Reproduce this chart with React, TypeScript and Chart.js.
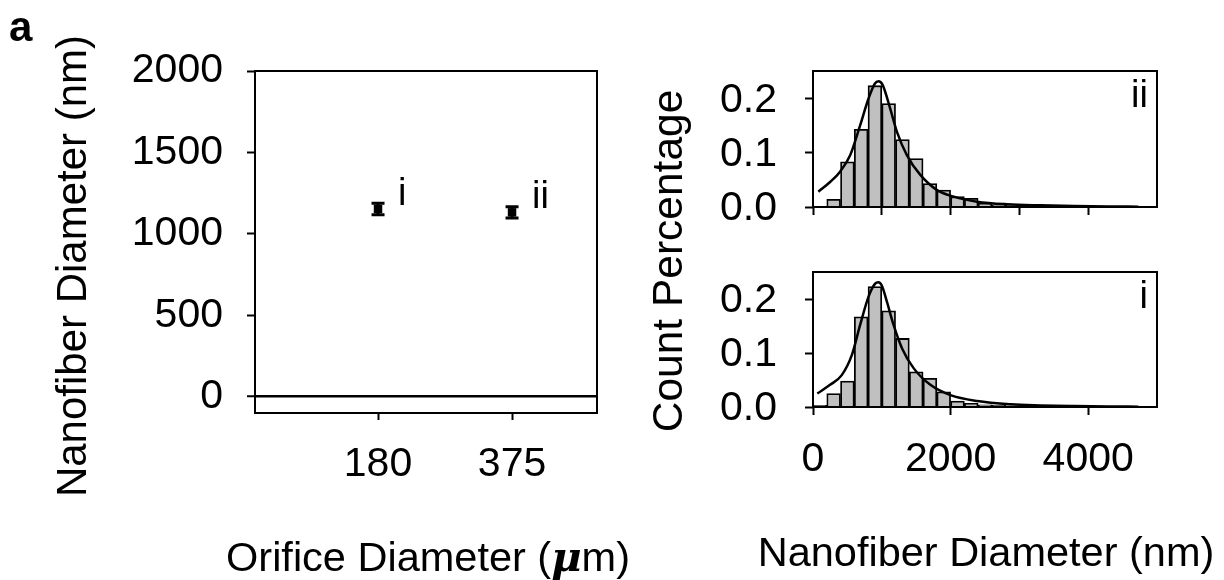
import React, { useEffect, useRef } from 'react';
import { Chart, registerables } from 'chart.js';

Chart.register(...registerables);

const FONT = '"Liberation Sans", Arial, Helvetica, sans-serif';

// ---------- Left panel data ----------
const orificeLabels = ['180', '375'];
const orificePositions = [1, 2];
const meanDiameter = [1153, 1132];
const diameterError = [35, 35];
const pointTags = ['i', 'ii'];
const leftYTicks = [0, 500, 1000, 1500, 2000];

// ---------- Histogram data ----------
const binCenters = [100, 300, 500, 700, 900, 1100, 1300, 1500, 1700, 1900, 2100, 2300, 2500, 2700, 2900, 3100, 3300, 3500, 3700, 3900, 4100, 4300, 4500, 4700];
const countsII = [0, 0.014, 0.083, 0.143, 0.223, 0.19, 0.124, 0.089, 0.043, 0.031, 0.019, 0.016, 0.007, 0.004, 0.004, 0.003, 0.002, 0.002, 0.001, 0.001, 0.001, 0.001, 0.0005, 0.0005];
const countsI = [0.003, 0.025, 0.048, 0.167, 0.223, 0.178, 0.127, 0.065, 0.053, 0.028, 0.011, 0.007, 0.004, 0.003, 0.002, 0.002, 0.001, 0.001, 0.001, 0.0005, 0.0005, 0.0005, 0.0005, 0.0005];

const fitXII = [78, 248, 394, 540, 685, 806, 900, 952, 1010, 1122, 1220, 1366, 1560, 1803, 2046, 2386, 2823, 3300, 3800, 4300, 4730];
const fitYII = [0.028, 0.046, 0.065, 0.095, 0.150, 0.199, 0.227, 0.231, 0.225, 0.181, 0.138, 0.095, 0.059, 0.031, 0.019, 0.0098, 0.005, 0.003, 0.0018, 0.001, 0.0006];
const fitXI = [63, 248, 418, 564, 685, 806, 900, 950, 1000, 1074, 1171, 1293, 1462, 1706, 1997, 2386, 2872, 3300, 3800, 4300, 4730];
const fitYI = [0.025, 0.041, 0.059, 0.096, 0.152, 0.204, 0.228, 0.231, 0.225, 0.195, 0.152, 0.109, 0.072, 0.041, 0.022, 0.011, 0.005, 0.003, 0.0018, 0.001, 0.0006];

const histYTicks = [0, 0.1, 0.2];
const histXTicksTop = [0, 1000, 2000, 3000, 4000];
const histXTicksBottom = [0, 2000, 4000];

// ---------- Text ----------
const panelLetter = 'a';
const leftYTitle = 'Nanofiber Diameter (nm)';
const leftXTitleParts = ['Orifice Diameter (', 'μ', 'm)'];
const rightYTitle = 'Count Percentage';
const rightXTitle = 'Nanofiber Diameter (nm)';

const W = 1224;
const H = 580;

const framePlugin = {
  id: 'frame',
  afterDraw(chart: any) {
    const { ctx, chartArea: a } = chart;
    ctx.save();
    ctx.strokeStyle = '#000';
    ctx.lineWidth = 2;
    ctx.strokeRect(a.left, a.top, a.right - a.left, a.bottom - a.top);
    ctx.restore();
  },
};

const errorBarPlugin = {
  id: 'errorBars',
  beforeDatasetsDraw(chart: any) {
    const { ctx } = chart;
    const xs = chart.scales.x;
    const ys = chart.scales.y;
    ctx.save();
    ctx.strokeStyle = '#000';
    ctx.lineWidth = 3;
    orificePositions.forEach((p, i) => {
      const x = xs.getPixelForValue(p);
      const yt = ys.getPixelForValue(meanDiameter[i] + diameterError[i]);
      const yb = ys.getPixelForValue(meanDiameter[i] - diameterError[i]);
      ctx.beginPath();
      ctx.moveTo(x, yt);
      ctx.lineTo(x, yb);
      ctx.moveTo(x - 6.5, yt);
      ctx.lineTo(x + 6.5, yt);
      ctx.moveTo(x - 6.5, yb);
      ctx.lineTo(x + 6.5, yb);
      ctx.stroke();
    });
    ctx.restore();
  },
  afterDatasetsDraw(chart: any) {
    const { ctx } = chart;
    const xs = chart.scales.x;
    const ys = chart.scales.y;
    ctx.save();
    ctx.fillStyle = '#000';
    ctx.font = `38px ${FONT}`;
    ctx.textAlign = 'left';
    ctx.textBaseline = 'alphabetic';
    orificePositions.forEach((p, i) => {
      const x = xs.getPixelForValue(p);
      const y = ys.getPixelForValue(meanDiameter[i]);
      ctx.fillText(pointTags[i], x + 20, y - 4);
    });
    ctx.restore();
  },
};

const textsPlugin = {
  id: 'texts',
  afterDraw(chart: any) {
    const { ctx } = chart;
    ctx.save();
    ctx.fillStyle = '#000';
    // panel letter
    ctx.font = `bold 42px ${FONT}`;
    ctx.textAlign = 'left';
    ctx.textBaseline = 'alphabetic';
    ctx.fillText(panelLetter, 9, 41);

    // left y title
    ctx.font = `42px ${FONT}`;
    ctx.save();
    ctx.translate(86, 266);
    ctx.rotate(-Math.PI / 2);
    ctx.textAlign = 'center';
    ctx.fillText(leftYTitle, 0, 0);
    ctx.restore();

    // right y title
    ctx.font = `42.5px ${FONT}`;
    ctx.save();
    ctx.translate(682, 261);
    ctx.rotate(-Math.PI / 2);
    ctx.textAlign = 'center';
    ctx.fillText(rightYTitle, 0, 0);
    ctx.restore();

    // right x title
    ctx.font = `41.5px ${FONT}`;
    ctx.textAlign = 'center';
    ctx.fillText(rightXTitle, 986, 566);

    // left x title with bold-italic mu
    const normal = `41.5px ${FONT}`;
    const special = `italic bold 41.5px "DejaVu Serif", serif`;
    ctx.font = normal;
    const w0 = ctx.measureText(leftXTitleParts[0]).width;
    const w2 = ctx.measureText(leftXTitleParts[2]).width;
    ctx.font = special;
    const w1 = ctx.measureText(leftXTitleParts[1]).width;
    const total = w0 + w1 + w2;
    let x = 428 - total / 2;
    ctx.textAlign = 'left';
    ctx.font = normal;
    ctx.fillText(leftXTitleParts[0], x, 571);
    x += w0;
    ctx.font = special;
    ctx.fillText(leftXTitleParts[1], x, 571);
    x += w1;
    ctx.font = normal;
    ctx.fillText(leftXTitleParts[2], x, 571);
    ctx.restore();
  },
};

const histTagPlugin = (tag: string) => ({
  id: 'histTag',
  afterDraw(chart: any) {
    const { ctx, chartArea: a } = chart;
    ctx.save();
    ctx.fillStyle = '#000';
    ctx.font = `38px ${FONT}`;
    ctx.textAlign = 'right';
    ctx.textBaseline = 'alphabetic';
    ctx.fillText(tag, a.right - 9, a.top + 36);
    ctx.restore();
  },
});

function leftConfig(): any {
  return {
    type: 'scatter',
    data: {
      datasets: [
        {
          data: orificePositions.map((x, i) => ({ x, y: meanDiameter[i] })),
          pointStyle: 'rect',
          pointRadius: 6,
          backgroundColor: '#000',
          borderColor: '#000',
          borderWidth: 0,
        },
      ],
    },
    options: {
      animation: false,
      responsive: false,
      devicePixelRatio: 1,
      events: [],
      layout: { padding: { left: 0, top: 71, right: W - 597, bottom: 0 } },
      plugins: { legend: { display: false }, tooltip: { enabled: false } },
      scales: {
        x: {
          type: 'linear',
          min: 0.082,
          max: 2.634,
          afterBuildTicks: (s: any) => {
            s.ticks = orificePositions.map((v) => ({ value: v }));
          },
          afterFit: (s: any) => {
            s.height = H - 413;
          },
          ticks: {
            callback: (v: number) => {
              const k = orificePositions.indexOf(v);
              return k >= 0 ? orificeLabels[k] : '';
            },
            font: { size: 41, family: FONT },
            color: '#000',
            padding: 20,
            maxRotation: 0,
            autoSkip: false,
          },
          grid: { drawOnChartArea: false, tickLength: 7, tickColor: '#000', tickWidth: 2 },
          border: { display: false },
        },
        y: {
          min: -100,
          max: 2000,
          afterBuildTicks: (s: any) => {
            s.ticks = leftYTicks.map((v) => ({ value: v }));
          },
          afterFit: (s: any) => {
            s.width = 255;
          },
          ticks: {
            callback: (v: number) => String(v),
            font: { size: 41, family: FONT },
            color: '#000',
            padding: 24,
          },
          grid: {
            color: (c: any) => (c.tick && c.tick.value === 0 ? '#000' : 'rgba(0,0,0,0)'),
            lineWidth: (c: any) => (c.tick && c.tick.value === 0 ? 2.5 : 1),
            tickColor: '#000',
            tickLength: 8,
            tickWidth: 2,
          },
          border: { display: false },
        },
      },
    },
    plugins: [errorBarPlugin, framePlugin, textsPlugin],
  };
}

function histConfig(
  counts: number[],
  fitX: number[],
  fitY: number[],
  xTicks: number[],
  showXLabels: boolean,
  top: number,
  bottom: number,
  tag: string
): any {
  return {
    type: 'bar',
    data: {
      datasets: [
        {
          type: 'line',
          data: fitX.map((x, i) => ({ x, y: fitY[i] })),
          borderColor: '#000',
          borderWidth: 2.5,
          pointRadius: 0,
          cubicInterpolationMode: 'monotone',
          fill: false,
          order: 0,
        },
        {
          type: 'bar',
          data: binCenters.map((x, i) => ({ x, y: counts[i] })),
          backgroundColor: '#c0c0c0',
          borderColor: '#000',
          borderWidth: 1.8,
          barPercentage: 1,
          categoryPercentage: 1,
          order: 1,
        },
      ],
    },
    options: {
      animation: false,
      responsive: false,
      devicePixelRatio: 1,
      events: [],
      layout: { padding: { left: 640, top, right: W - 1157, bottom: 0 } },
      plugins: { legend: { display: false }, tooltip: { enabled: false } },
      scales: {
        x: {
          type: 'linear',
          min: 0,
          max: 5000,
          offset: false,
          afterBuildTicks: (s: any) => {
            s.ticks = xTicks.map((v) => ({ value: v }));
          },
          afterFit: (s: any) => {
            s.height = H - bottom;
          },
          ticks: {
            display: showXLabels,
            callback: (v: number) => String(v),
            font: { size: 41, family: FONT },
            color: '#000',
            padding: 20,
            maxRotation: 0,
            autoSkip: false,
          },
          grid: { offset: false, drawOnChartArea: false, tickLength: 8, tickColor: '#000', tickWidth: 2 },
          border: { display: false },
        },
        y: {
          min: 0,
          max: 0.25,
          afterBuildTicks: (s: any) => {
            s.ticks = histYTicks.map((v) => ({ value: v }));
          },
          afterFit: (s: any) => {
            s.width = 813 - 640;
          },
          ticks: {
            callback: (v: number) => v.toFixed(1),
            font: { size: 41, family: FONT },
            color: '#000',
            padding: 28,
            labelOffset: 2,
          },
          grid: { drawOnChartArea: false, tickLength: 8, tickColor: '#000', tickWidth: 2 },
          border: { display: false },
        },
      },
    },
    plugins: [framePlugin, histTagPlugin(tag)],
  };
}

export default function App() {
  const leftRef = useRef<HTMLCanvasElement>(null);
  const topRef = useRef<HTMLCanvasElement>(null);
  const botRef = useRef<HTMLCanvasElement>(null);

  useEffect(() => {
    Chart.defaults.font.family = FONT;
    Chart.defaults.color = '#000';
    const charts: Chart[] = [];
    if (leftRef.current) charts.push(new Chart(leftRef.current, leftConfig()));
    if (topRef.current)
      charts.push(new Chart(topRef.current, histConfig(countsII, fitXII, fitYII, histXTicksTop, false, 71, 207, 'ii')));
    if (botRef.current)
      charts.push(new Chart(botRef.current, histConfig(countsI, fitXI, fitYI, histXTicksBottom, true, 272, 407, 'i')));
    return () => charts.forEach((c) => c.destroy());
  }, []);

  const cs: React.CSSProperties = { position: 'absolute', left: 0, top: 0, width: W, height: H };
  return (
    <div style={{ position: 'fixed', left: 0, top: 0, width: W, height: H, background: '#fff' }}>
      <canvas ref={leftRef} width={W} height={H} style={cs} />
      <canvas ref={topRef} width={W} height={H} style={cs} />
      <canvas ref={botRef} width={W} height={H} style={cs} />
    </div>
  );
}
